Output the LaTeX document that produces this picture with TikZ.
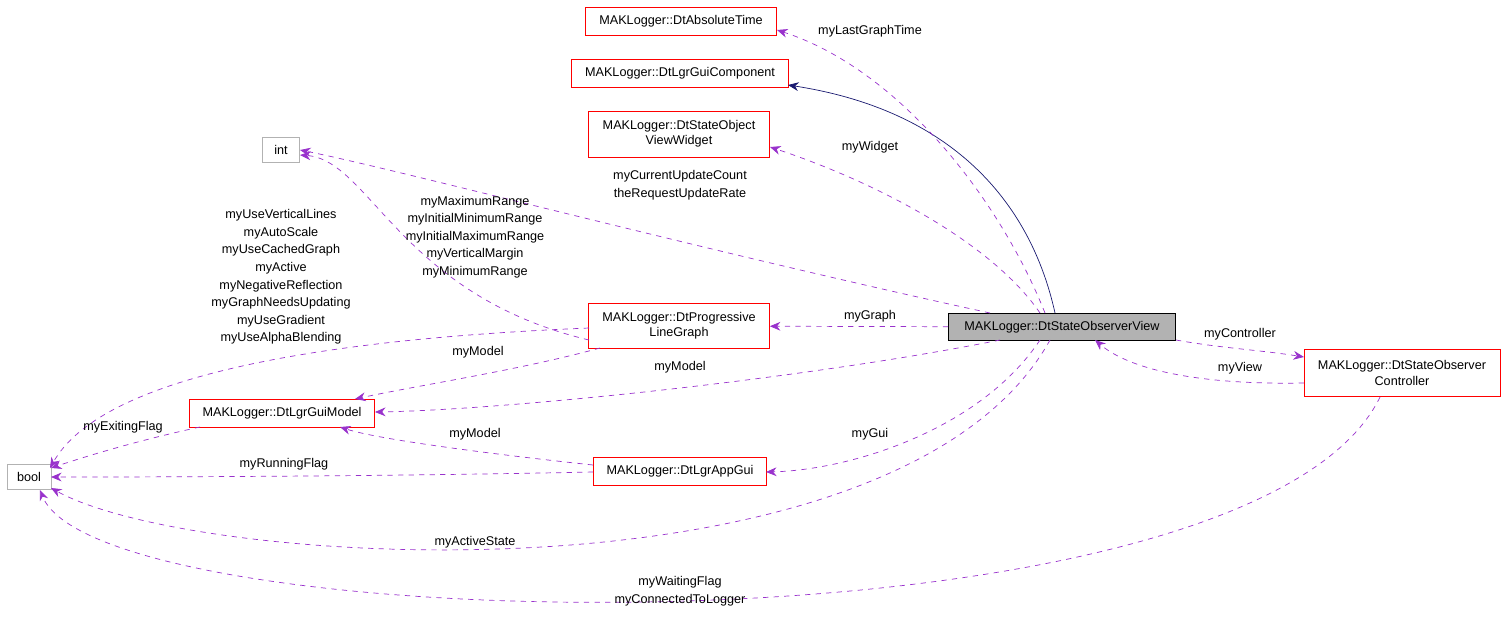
\documentclass[tikz,border=0pt]{standalone}
\usepackage{fontspec}
\setmainfont{Liberation Sans}
\usetikzlibrary{arrows.meta}
\definecolor{dep}{RGB}{153,50,204}
\definecolor{inh}{RGB}{25,25,112}
\tikzset{
  cls/.style={draw=red, fill=white, align=center, inner sep=1pt, minimum height=0.56cm},
  ext/.style={draw=gray!60, fill=white, inner sep=1pt, minimum height=0.5cm},
  use/.style={dep, dashed, -{Stealth[length=6pt,width=5pt]}},
  base/.style={inh, -{Stealth[length=6pt,width=5pt]}},
  lbl/.style={align=center, inner sep=0pt, font=\fontsize{7.2}{10}\selectfont}
}
\begin{document}
\begin{tikzpicture}[x=0.02cm,y=-0.02cm,font=\fontsize{7.2}{8.7}\selectfont]
\useasboundingbox (0,0) rectangle (1507,616);
% classes
\node[cls, minimum width=3.82cm] (abs) at (681,21) {MAKLogger::DtAbsoluteTime};
\node[cls, minimum width=4.34cm] (comp) at (680,73) {MAKLogger::DtLgrGuiComponent};
\node[cls, minimum width=3.62cm, minimum height=0.92cm] (widget) at (679,134) {MAKLogger::DtStateObject\\ViewWidget};
\node[ext, minimum width=0.74cm] (int) at (281,150) {int};
\node[cls, minimum width=3.62cm, minimum height=0.9cm] (graph) at (679,326) {MAKLogger::DtProgressive\\LineGraph};
\node[draw=black, fill=gray!60, inner sep=1pt, minimum height=0.54cm, minimum width=4.54cm] (view) at (1062,327) {MAKLogger::DtStateObserverView};
\node[cls, minimum width=3.92cm, minimum height=0.94cm] (ctrl) at (1402,373) {MAKLogger::DtStateObserver\\Controller};
\node[cls, minimum width=3.7cm] (model) at (282,413) {MAKLogger::DtLgrGuiModel};
\node[cls, minimum width=3.46cm] (app) at (680,471) {MAKLogger::DtLgrAppGui};
\node[ext, minimum width=0.88cm] (bool) at (29,477) {bool};
% inheritance
\draw[base] (1055,313) .. controls (1030,200) and (950,110) .. (788,85);
% usage
\draw[use] (1045,313) .. controls (1000,200) and (900,70) .. (777,30);
\draw[use] (1040,313) .. controls (990,240) and (870,180) .. (770,147);
\draw[use] (990,313) .. controls (700,250) and (400,170) .. (300,150);
\draw[use] (589,340) .. controls (400,295) and (370,160) .. (300,155);
\draw[use] (589,328) .. controls (300,340) and (100,380) .. (50,468);
\draw[use] (view) -- (graph);
\draw[use] (600,348) .. controls (520,370) and (420,385) .. (355,399);
\draw[use] (1000,340) .. controls (800,380) and (500,410) .. (375,412);
\draw[use] (200,427) .. controls (140,440) and (90,455) .. (51,468);
\draw[use] (593,465) .. controls (500,455) and (380,440) .. (340,427);
\draw[use] (593,472) .. controls (400,476) and (200,477) .. (51,477);
\draw[use] (1040,340) .. controls (980,430) and (850,470) .. (766,472);
\draw[use] (1050,340) .. controls (900,610) and (200,570) .. (51,488);
\draw[use] (1176,340) .. controls (1220,348) and (1260,350) .. (1304,357);
\draw[use] (1304,383) .. controls (1200,385) and (1130,370) .. (1095,340);
\draw[use] (1380,397) .. controls (1250,665) and (100,640) .. (40,490);
% labels
\node[lbl] (l1) at (870,31) {myLastGraphTime};
\node[lbl] (l2) at (870,147) {myWidget};
\node[lbl] (l3) at (680,185) {myCurrentUpdateCount\\theRequestUpdateRate};
\node[lbl] (l4) at (475,237) {myMaximumRange\\myInitialMinimumRange\\myInitialMaximumRange\\myVerticalMargin\\myMinimumRange};
\node[lbl] (l5) at (281,277) {myUseVerticalLines\\myAutoScale\\myUseCachedGraph\\myActive\\myNegativeReflection\\myGraphNeedsUpdating\\myUseGradient\\myUseAlphaBlending};
\node[lbl] (l6) at (870,316) {myGraph};
\node[lbl] (l7) at (478,352) {myModel};
\node[lbl] (l8) at (680,367) {myModel};
\node[lbl] (l9) at (123,427) {myExitingFlag};
\node[lbl] (l10) at (475,434) {myModel};
\node[lbl] (l11) at (284,464) {myRunningFlag};
\node[lbl] (l12) at (870,434) {myGui};
\node[lbl] (l13) at (475,542) {myActiveState};
\node[lbl] (l14) at (1240,334) {myController};
\node[lbl] (l15) at (1240,368) {myView};
\node[lbl] (l16) at (680,591) {myWaitingFlag\\myConnectedToLogger};
\end{tikzpicture}
\end{document}
